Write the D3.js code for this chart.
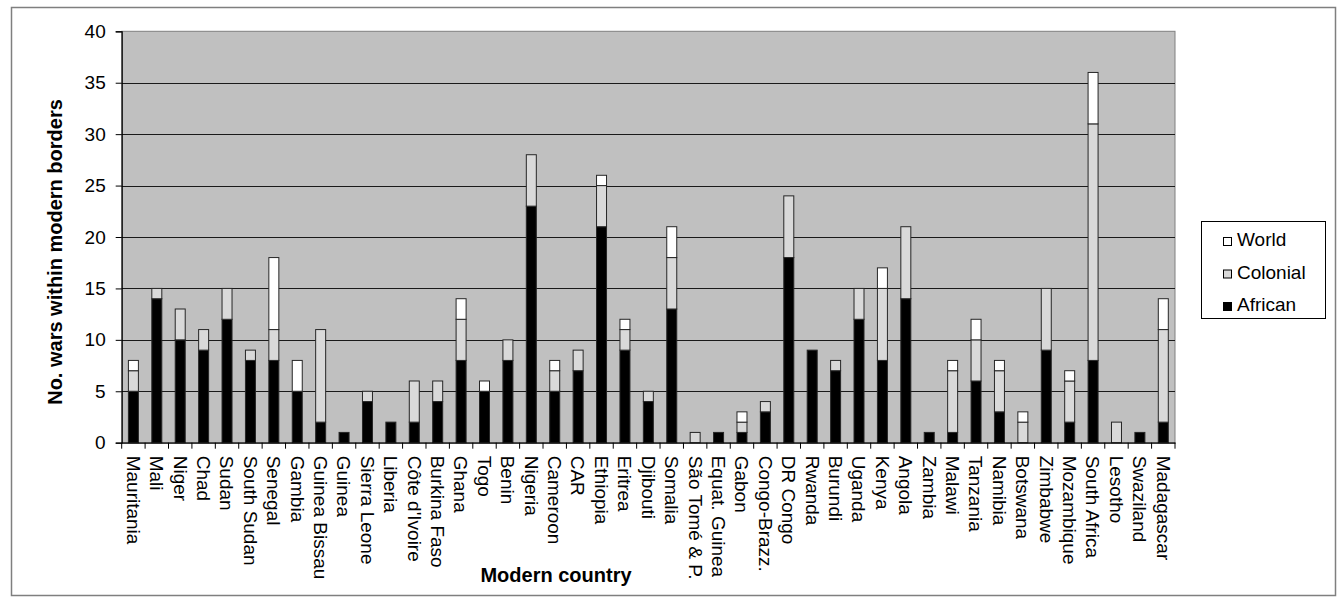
<!DOCTYPE html>
<html>
<head>
<meta charset="utf-8">
<script src="https://cdn.jsdelivr.net/npm/d3@7"></script>
<style>
  html, body { margin: 0; padding: 0; background: #fff; }
  svg { display: block; font-family: "Liberation Sans", Arial, sans-serif; }
</style>
</head>
<body>
<svg id="chart" width="1339" height="598"></svg>
<script>
const categories = ["Mauritania","Mali","Niger","Chad","Sudan","South Sudan","Senegal","Gambia","Guinea Bissau","Guinea","Sierra Leone","Liberia","Côte d'Ivoire","Burkina Faso","Ghana","Togo","Benin","Nigeria","Cameroon","CAR","Ethiopia","Eritrea","Djibouti","Somalia","São Tomé & P.","Equat. Guinea","Gabon","Congo-Brazz.","DR Congo","Rwanda","Burundi","Uganda","Kenya","Angola","Zambia","Malawi","Tanzania","Namibia","Botswana","Zimbabwe","Mozambique","South Africa","Lesotho","Swaziland","Madagascar"];
const african  = [5,14,10,9,12,8,8,5,2,1,4,2,2,4,8,5,8,23,5,7,21,9,4,13,0,1,1,3,18,9,7,12,8,14,1,1,6,3,0,9,2,8,0,1,2];
const colonial = [2,1,3,2,3,1,3,0,9,0,1,0,4,2,4,0,2,5,2,2,4,2,1,5,1,0,1,1,6,0,1,3,7,7,0,6,4,4,2,6,4,23,2,0,9];
const world    = [1,0,0,0,0,0,7,3,0,0,0,0,0,0,2,1,0,0,1,0,1,1,0,3,0,0,1,0,0,0,0,0,2,0,0,1,2,1,1,0,1,5,0,0,3];
const seriesNames = ["African","Colonial","World"];
const seriesColors = {African: "#000000", Colonial: "#d9d9d9", World: "#ffffff"};
const yTicks = [0,5,10,15,20,25,30,35,40];
const legendOrder = ["World","Colonial","African"];

const svg = d3.select("#chart");
const plot = {left: 121.7, right: 1175, top: 31.3, bottom: 442.7};

// outer frame
svg.append("rect").attr("x", 11.5).attr("y", 7.5).attr("width", 1324).attr("height", 588)
  .attr("fill", "#fff").attr("stroke", "#7f7f7f").attr("stroke-width", 1.5);

const x = d3.scaleBand().domain(categories).range([plot.left, plot.right])
  .paddingInner(0.573).paddingOuter(0.2865);
const y = d3.scaleLinear().domain([0, 40]).range([plot.bottom, plot.top]);

// plot background
svg.append("rect").attr("x", plot.left).attr("y", plot.top)
  .attr("width", plot.right - plot.left).attr("height", plot.bottom - plot.top)
  .attr("fill", "#c0c0c0").attr("stroke", "#808080").attr("stroke-width", 1);

// gridlines
svg.append("g").selectAll("line").data(yTicks.filter(t => t > 0 && t < 40)).join("line")
  .attr("x1", plot.left).attr("x2", plot.right)
  .attr("y1", d => Math.round(y(d)) + 0.5).attr("y2", d => Math.round(y(d)) + 0.5)
  .attr("stroke", "#1a1a1a").attr("stroke-width", 1.2);

// stacked bars
const rows = categories.map((c, i) => ({cat: c, African: african[i], Colonial: colonial[i], World: world[i]}));
const stack = d3.stack().keys(seriesNames)(rows);
svg.append("g").selectAll("g").data(stack).join("g")
  .attr("fill", d => seriesColors[d.key])
  .selectAll("rect").data(d => d.filter(s => s[1] - s[0] > 0)).join("rect")
  .attr("x", d => x(d.data.cat))
  .attr("width", x.bandwidth())
  .attr("y", d => y(d[1]))
  .attr("height", d => y(d[0]) - y(d[1]))
  .attr("stroke", "#262626").attr("stroke-width", 1);

// y axis
const yAxis = d3.axisLeft(y).tickValues(yTicks).tickSize(6).tickPadding(10).tickFormat(d3.format("d"));
const gy = svg.append("g").attr("transform", `translate(${plot.left},0)`).call(yAxis);
gy.select(".domain").attr("stroke", "#000").attr("stroke-width", 1.2);
gy.selectAll(".tick line").attr("stroke", "#000");
gy.selectAll(".tick text").attr("font-size", "19px").attr("fill", "#000")
  .attr("font-family", "Liberation Sans, Arial, sans-serif");

// x axis
const xAxis = d3.axisBottom(x).tickSize(0).tickFormat(d => d);
const gx = svg.append("g").attr("transform", `translate(0,${plot.bottom})`).call(xAxis);
gx.select(".domain").attr("stroke", "#000").attr("stroke-width", 1.2);
gx.selectAll(".tick text")
  .attr("font-size", "19px").attr("fill", "#000")
  .attr("font-family", "Liberation Sans, Arial, sans-serif")
  .attr("text-anchor", "start")
  .attr("transform", "translate(0,13) rotate(90)")
  .attr("x", 0).attr("y", 0).attr("dy", "0.35em");
// category boundary tick marks
const step = x.step();
svg.append("g").selectAll("line").data(d3.range(categories.length + 1)).join("line")
  .attr("x1", i => plot.left + i * step).attr("x2", i => plot.left + i * step)
  .attr("y1", plot.bottom).attr("y2", plot.bottom + 6)
  .attr("stroke", "#000").attr("stroke-width", 1);

// axis titles
svg.append("text").attr("transform", "translate(62,252) rotate(-90)")
  .attr("text-anchor", "middle").attr("font-weight", "bold").attr("font-size", "20px")
  .text("No. wars within modern borders");
svg.append("text").attr("x", 556).attr("y", 582)
  .attr("text-anchor", "middle").attr("font-weight", "bold").attr("font-size", "20px")
  .text("Modern country");

// legend
const lg = svg.append("g");
lg.append("rect").attr("x", 1201.5).attr("y", 221.5).attr("width", 124).attr("height", 97)
  .attr("fill", "#fff").attr("stroke", "#000").attr("stroke-width", 1);
const items = lg.selectAll("g.item").data(legendOrder).join("g").attr("class", "item")
  .attr("transform", (d, i) => `translate(1223,${237 + i * 32.5})`);
items.append("rect").attr("x", 0.5).attr("y", 0.5).attr("width", 8).attr("height", 8)
  .attr("fill", d => seriesColors[d]).attr("stroke", "#000").attr("stroke-width", 1);
items.append("text").attr("x", 14).attr("y", 9).attr("font-size", "19px").attr("fill", "#000")
  .text(d => d);
</script>
</body>
</html>
